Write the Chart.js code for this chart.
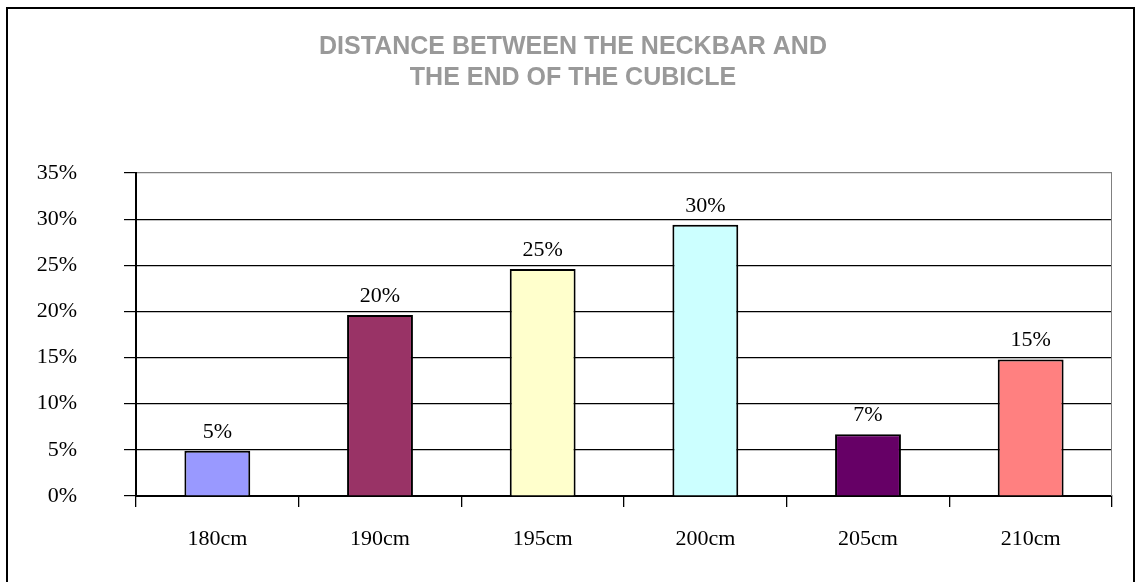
<!DOCTYPE html>
<html>
<head>
<meta charset="utf-8">
<script src="https://cdn.jsdelivr.net/npm/chart.js@4"></script>
<style>
  html,body{margin:0;padding:0;background:#fff;}
  #wrap{width:1139px;height:582px;position:relative;}
</style>
</head>
<body>
<div id="wrap"><canvas id="chart" width="1139" height="582"></canvas></div>
<script>
const categories = ['180cm','190cm','195cm','200cm','205cm','210cm'];
const values = [4.9, 19.6, 24.6, 29.4, 6.7, 14.8];
const valueLabels = ['5%','20%','25%','30%','7%','15%'];
const barColors = ['#9999FF','#993366','#FFFFCC','#CCFFFF','#660066','#FF8080'];
const titleLines = ['DISTANCE BETWEEN THE NECKBAR AND','THE END OF THE CUBICLE'];

const serif = '"Liberation Serif","Times New Roman",serif';

// outer frame + gray plot border (top / right)
const framePlugin = {
  id:'frame',
  beforeDraw(chart){
    const c = chart.ctx;
    c.save();
    c.fillStyle='#fff';
    c.fillRect(0,0,chart.width,chart.height);
    c.strokeStyle='#000'; c.lineWidth=2;
    c.strokeRect(7,8,1127,600);
    c.restore();
  },
  afterDraw(chart){
    const a = chart.chartArea, c = chart.ctx;
    c.save();
    c.strokeStyle='#808080'; c.lineWidth=1;
    c.beginPath();
    c.moveTo(a.right-0.5,a.top); c.lineTo(a.right-0.5,a.bottom);
    c.stroke();
    c.restore();
  }
};

// value labels above bars
const labelPlugin = {
  id:'barLabels',
  afterDatasetsDraw(chart){
    const c = chart.ctx;
    const meta = chart.getDatasetMeta(0);
    c.save();
    c.font = '22px '+serif;
    c.fillStyle='#000';
    c.textAlign='center';
    c.textBaseline='alphabetic';
    meta.data.forEach((bar,i)=>{
      c.fillText(valueLabels[i], bar.x, bar.y-13);
    });
    c.restore();
  }
};

new Chart(document.getElementById('chart'),{
  type:'bar',
  data:{
    labels:categories,
    datasets:[{
      data:values,
      backgroundColor:barColors,
      borderColor:'#000',
      borderWidth:2,
      categoryPercentage:1,
      barPercentage:0.405
    }]
  },
  options:{
    responsive:false,
    animation:false,
    layout:{padding:{left:34,right:27,top:0,bottom:0}},
    plugins:{
      legend:{display:false},
      tooltip:{enabled:false},
      title:{
        display:true,
        text:titleLines,
        color:'#999999',
        font:{family:'"Liberation Sans",Arial,sans-serif',size:25,weight:'bold',lineHeight:1.24},
        padding:{top:32,bottom:79}
      }
    },
    scales:{
      x:{
        grid:{offset:true,drawOnChartArea:false,tickLength:11,color:'#000',lineWidth:1.3},
        border:{color:'#000',width:2},
        ticks:{color:'#000',font:{family:serif,size:22},padding:19,maxRotation:0},
        afterFit(s){ s.height = 86; }
      },
      y:{
        min:0,max:35,
        grid:{
          color:ctx=>ctx.tick && ctx.tick.value===35 ? '#808080' : '#000',
          tickColor:'#000',
          tickLength:12,
          lineWidth:1.2
        },
        border:{color:'#000',width:2},
        ticks:{stepSize:5,color:'#000',font:{family:serif,size:22},padding:47,callback:v=>v+'%'},
        afterFit(s){ s.width = 102; }
      }
    }
  },
  plugins:[framePlugin,labelPlugin]
});
</script>
</body>
</html>
